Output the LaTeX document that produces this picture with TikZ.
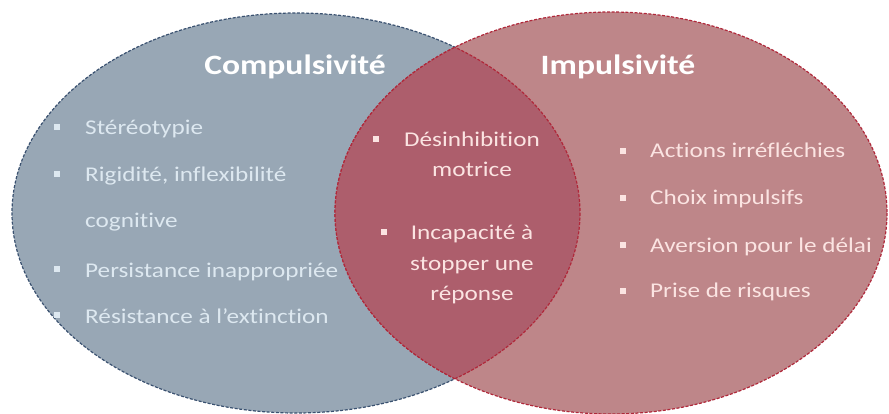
\documentclass[tikz,border=0pt]{standalone}
\usepackage{fontspec}
\setmainfont{Carlito}[FakeStretch=1.2, Ligatures=NoCommon]
\usepackage{tikz}
\usetikzlibrary{positioning}

\definecolor{compfill}{HTML}{98A7B5}
\definecolor{compline}{HTML}{3A5170}
\definecolor{impfill}{HTML}{BE8689}
\definecolor{impline}{HTML}{B0283A}
\definecolor{bothfill}{HTML}{AD5E6C}
\definecolor{comptext}{HTML}{DDE8F0}
\definecolor{imptext}{HTML}{FBE4E2}

\begin{document}
\begin{tikzpicture}[
  x = 1pt, y = -1pt,
  title/.style = {inner sep=0pt, anchor=base, text=white,
                  font=\fontsize{28}{30}\selectfont\bfseries},
  item/.style  = {inner sep=0pt, anchor=base west,
                  font=\fontsize{21}{25}\selectfont},
  mid/.style   = {inner sep=0pt, anchor=base, text=imptext,
                  font=\fontsize{21}{25}\selectfont},
  puce/.style  = {rectangle, inner sep=0pt, minimum size=6.5pt},
  bord/.style  = {line width=1.2pt, dash pattern=on 3pt off 1.6pt}
]
\useasboundingbox (0,0) rectangle (889,414);

% ───────── ellipses ─────────
\filldraw[fill=compfill, draw=compline, bord]
  (296,213) ellipse [x radius=284, y radius=200];
\filldraw[fill=impfill, draw=impline, bord]
  (611,213) ellipse [x radius=276, y radius=201];

% ───────── overlap ─────────
\begin{scope}
  \clip (296,213) ellipse [x radius=284, y radius=200];
  \filldraw[fill=bothfill, draw=impline, bord]
    (611,213) ellipse [x radius=276, y radius=201];
\end{scope}
\begin{scope}
  \clip (611,213) ellipse [x radius=276, y radius=201];
  \draw[impline, bord]
    (296,213) ellipse [x radius=284, y radius=200];
\end{scope}

% ───────── titles ─────────
\node[title] (comp) at (295,75) {Compulsivité};
\node[title] (imp)  at (618,75) {Impulsivité};

% ───────── left list ─────────
\node[item, text=comptext] (c1) at (85,135) {Stéréotypie};
\node[item, text=comptext] (c2) at (85,182) {Rigidité, inflexibilité};
\node[item, text=comptext] (c3) at (85,228) {cognitive};
\node[item, text=comptext] (c4) at (85,277) {Persistance inappropriée};
\node[item, text=comptext] (c5) at (85,323) {Résistance à l’extinction};

\node[puce, fill=comptext] (pc1) at (57,127) {};
\node[puce, fill=comptext] (pc2) at (57,174) {};
\node[puce, fill=comptext] (pc4) at (57,269) {};
\node[puce, fill=comptext] (pc5) at (57,315) {};

% ───────── overlap list ─────────
\node[mid] (b1) at (472,147) {Désinhibition};
\node[mid] (b2) at (472,177) {motrice};
\node[mid] (b3) at (472,240) {Incapacité à};
\node[mid] (b4) at (472,270) {stopper une};
\node[mid] (b5) at (472,300) {réponse};

\node[puce, fill=imptext] (pb1) at (376,139) {};
\node[puce, fill=imptext] (pb3) at (384,232) {};

% ───────── right list ─────────
\node[item, text=imptext] (i1) at (650,158) {Actions irréfléchies};
\node[item, text=imptext] (i2) at (650,205) {Choix impulsifs};
\node[item, text=imptext] (i3) at (650,252) {Aversion pour le délai};
\node[item, text=imptext] (i4) at (650,298) {Prise de risques};

\node[puce, fill=imptext] (pi1) at (623,151) {};
\node[puce, fill=imptext] (pi2) at (623,198) {};
\node[puce, fill=imptext] (pi3) at (623,245) {};
\node[puce, fill=imptext] (pi4) at (623,291) {};
\end{tikzpicture}
\end{document}
